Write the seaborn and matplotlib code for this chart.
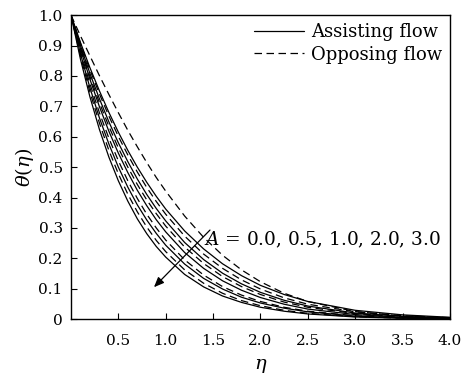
import numpy as np
import pandas as pd
import matplotlib
matplotlib.use('Agg')
import matplotlib.pyplot as plt
from matplotlib.lines import Line2D
import seaborn as sns


# Values

eta = [0.0, 0.1, 0.2, 0.3, 0.4, 0.5, 0.6, 0.7, 0.8, 0.9, 1.0,
       1.2, 1.4, 1.6, 1.8, 2.0, 2.25, 2.5, 3.0, 3.5, 4.0]

A_labels = ['0.0', '0.5', '1.0', '2.0', '3.0']

# assisting flow (solid lines)
assisting_A00 = [1.000, 0.910, 0.827, 0.751, 0.680, 0.615, 0.555, 0.500, 0.450, 0.404, 0.362,
                 0.290, 0.231, 0.182, 0.143, 0.111, 0.081, 0.058, 0.029, 0.014, 0.006]
assisting_A05 = [1.000, 0.900, 0.808, 0.725, 0.649, 0.580, 0.518, 0.461, 0.410, 0.364, 0.323,
                 0.252, 0.196, 0.151, 0.116, 0.088, 0.062, 0.043, 0.020, 0.009, 0.004]
assisting_A10 = [1.000, 0.889, 0.789, 0.699, 0.618, 0.546, 0.482, 0.424, 0.373, 0.327, 0.287,
                 0.219, 0.167, 0.126, 0.095, 0.071, 0.049, 0.033, 0.015, 0.006, 0.003]
assisting_A20 = [1.000, 0.873, 0.761, 0.662, 0.576, 0.500, 0.434, 0.376, 0.326, 0.282, 0.243,
                 0.181, 0.134, 0.099, 0.072, 0.053, 0.036, 0.024, 0.010, 0.004, 0.002]
assisting_A30 = [1.000, 0.855, 0.731, 0.624, 0.533, 0.455, 0.388, 0.330, 0.281, 0.239, 0.204,
                 0.147, 0.106, 0.076, 0.055, 0.039, 0.026, 0.017, 0.007, 0.003, 0.001]

# opposing flow (dashed lines)
opposing_A00 = [1.000, 0.932, 0.866, 0.801, 0.739, 0.679, 0.621, 0.567, 0.515, 0.466, 0.421,
                0.339, 0.269, 0.210, 0.162, 0.123, 0.085, 0.058, 0.025, 0.010, 0.004]
opposing_A05 = [1.000, 0.907, 0.820, 0.741, 0.668, 0.601, 0.540, 0.484, 0.433, 0.387, 0.345,
                0.273, 0.214, 0.167, 0.129, 0.099, 0.070, 0.049, 0.024, 0.011, 0.005]
opposing_A10 = [1.000, 0.894, 0.798, 0.712, 0.634, 0.563, 0.500, 0.443, 0.392, 0.347, 0.306,
                0.237, 0.183, 0.140, 0.107, 0.081, 0.056, 0.039, 0.018, 0.008, 0.004]
opposing_A20 = [1.000, 0.881, 0.774, 0.679, 0.595, 0.521, 0.455, 0.397, 0.345, 0.300, 0.260,
                0.195, 0.145, 0.107, 0.079, 0.058, 0.039, 0.026, 0.011, 0.004, 0.002]
opposing_A30 = [1.000, 0.865, 0.747, 0.645, 0.555, 0.478, 0.411, 0.353, 0.303, 0.259, 0.222,
                0.162, 0.118, 0.085, 0.061, 0.044, 0.029, 0.019, 0.008, 0.003, 0.001]

x_ticks = [0.5, 1.0, 1.5, 2.0, 2.5, 3.0, 3.5, 4.0]
x_tick_labels = ['0.5', '1.0', '1.5', '2.0', '2.5', '3.0', '3.5', '4.0']
y_ticks = [0.0, 0.1, 0.2, 0.3, 0.4, 0.5, 0.6, 0.7, 0.8, 0.9, 1.0]
y_tick_labels = ['0', '0.1', '0.2', '0.3', '0.4', '0.5', '0.6', '0.7', '0.8', '0.9', '1.0']


# Long form table for seaborn

assisting = [assisting_A00, assisting_A05, assisting_A10, assisting_A20, assisting_A30]
opposing = [opposing_A00, opposing_A05, opposing_A10, opposing_A20, opposing_A30]

rows = []
for flow, curves in [('Assisting flow', assisting), ('Opposing flow', opposing)]:
    for a, theta in zip(A_labels, curves):
        for e, t in zip(eta, theta):
            rows.append([e, t, a, flow])
df = pd.DataFrame(rows, columns=['eta', 'theta', 'A', 'flow'])


# Plot

sns.set_style('ticks')
plt.rcParams['font.family'] = ['DejaVu Serif']
plt.rcParams['mathtext.fontset'] = 'dejavuserif'
plt.rcParams['text.color'] = 'black'
plt.rcParams['axes.labelcolor'] = 'black'
plt.rcParams['xtick.color'] = 'black'
plt.rcParams['ytick.color'] = 'black'

dash_style = (6.0, 3.6)

fig = plt.figure(figsize=(4.61, 3.79), dpi=100)
ax = fig.add_axes([0.154, 0.158, 0.822, 0.802])

sns.lineplot(data=df, x='eta', y='theta', style='flow', units='A',
             estimator=None, color='black', lw=0.9, legend=False, ax=ax,
             dashes={'Assisting flow': '', 'Opposing flow': dash_style})

ax.set_xlim(0, 4)
ax.set_ylim(0, 1)
ax.set_xticks(x_ticks)
ax.set_xticklabels(x_tick_labels)
ax.set_yticks(y_ticks)
ax.set_yticklabels(y_tick_labels)
ax.tick_params(axis='both', direction='in', length=4, width=0.8,
               labelsize=11, colors='black')
ax.tick_params(axis='x', pad=11)
ax.tick_params(axis='y', pad=6)
ax.set_xlabel(r'$\eta$', fontsize=14, labelpad=6)
ax.set_ylabel(r'$\theta(\eta)$', fontsize=14, labelpad=2)
for s in ax.spines.values():
    s.set_linewidth(1.0)
    s.set_color('black')

handles = [Line2D([], [], color='black', lw=0.9),
           Line2D([], [], color='black', lw=0.9, dashes=dash_style)]
ax.legend(handles, ['Assisting flow', 'Opposing flow'], loc='upper right',
          frameon=False, fontsize=13, handlelength=2.8, handletextpad=0.35,
          borderaxespad=0.05, labelspacing=0.25)

ax.annotate('', xy=(0.876, 0.105), xytext=(1.467, 0.293),
            arrowprops=dict(arrowstyle='-|>,head_length=0.6,head_width=0.25',
                            color='black', lw=0.9, shrinkA=0, shrinkB=0))
ax.text(1.40, 0.262, r'$A$ = 0.0, 0.5, 1.0, 2.0, 3.0', fontsize=13.3,
        ha='left', va='center')

fig.savefig('out.png', dpi=100)
